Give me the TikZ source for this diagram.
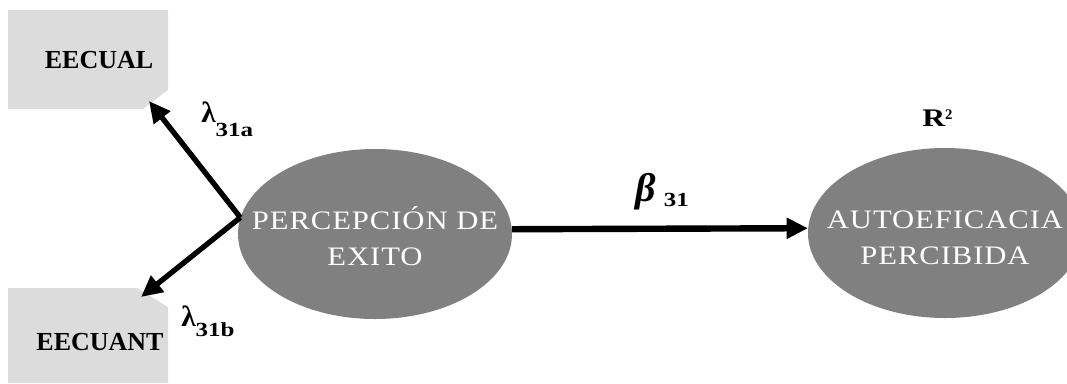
\documentclass[tikz,border=0pt]{standalone}
\usepackage{fontspec}
\setmainfont{Liberation Serif}
\newfontfamily\elfont[LetterSpace=3]{Liberation Serif}
\usetikzlibrary{shapes.geometric,arrows.meta}
\definecolor{boxgray}{HTML}{DCDCDC}
\definecolor{elgray}{HTML}{808080}
\newcommand{\wide}[1]{\scalebox{1.25}[1]{#1}}
\newcommand{\eltwo}[2]{\scalebox{1.15}[1]{\begin{tabular}{@{}c@{}}#1\\#2\end{tabular}}}
\tikzset{
  latent/.style={ellipse, fill=elgray, draw=none, minimum width=205.5pt, minimum height=127.5pt, inner sep=0pt},
  eltext/.style={text=white, inner sep=0pt, font=\elfont\fontsize{20}{27.5}\selectfont},
  boxtext/.style={font=\bfseries\fontsize{19.5}{22}\selectfont, inner sep=0pt},
  coef/.style={font=\bfseries\fontsize{22}{24}\selectfont, inner sep=0pt, anchor=base west},
  path/.style={line width=4pt, -{Triangle[length=16pt,width=15pt]}},
}
\begin{document}
\begin{tikzpicture}[x=0.75pt,y=-0.75pt]
\useasboundingbox (0,0) rectangle (1067,383);
\clip (0,0) rectangle (1067,383);
% indicator boxes
\fill[boxgray] (8,10) -- (168,10) -- (168,90) -- (143,109) -- (8,109) -- cycle;
\fill[boxgray] (8,288) -- (137,288) -- (168,307) -- (168,383) -- (8,383) -- cycle;
\node[boxtext] (eecual) at (99,60) {EECUAL};
\node[boxtext] (eecuant) at (100,342) {EECUANT};
% latent variables
\node[latent] (pe) at (375,234) {};
\node[latent] (ap) at (945,233) {};
\node[eltext] (pet) at (375,240) {\eltwo{PERCEPCIÓN DE}{EXITO}};
\node[eltext] (apt) at (945,239) {\eltwo{AUTOEFICACIA}{PERCIBIDA}};
% arrow end points at the boxes
\coordinate (ta) at (149,101);
\coordinate (tb) at (141,297);
\draw[path] (pe.173) -- (ta);
\draw[path] (pe.173) -- (tb);
\draw[path, line width=4.8pt] (pe.2.5) -- (ap.178);
% labels
\node[coef] (la) at (201,122) {λ\raisebox{-11pt}{\fontsize{15}{15}\selectfont\wide{31a}}};
\node[coef] (lb) at (181,326) {λ\raisebox{-8pt}{\fontsize{15}{15}\selectfont\wide{31b}}};
\node[coef, font=\bfseries\itshape\fontsize{30}{32}\selectfont] (beta) at (635,201) {β\hspace{6pt}\raisebox{-4pt}{\bfseries\upshape\fontsize{15}{15}\selectfont\wide{31}}};
\node[coef, font=\bfseries\fontsize{19}{20}\selectfont] (r2) at (922,126) {\wide{R}\raisebox{5pt}{\fontsize{11}{11}\selectfont 2}};
\end{tikzpicture}
\end{document}
